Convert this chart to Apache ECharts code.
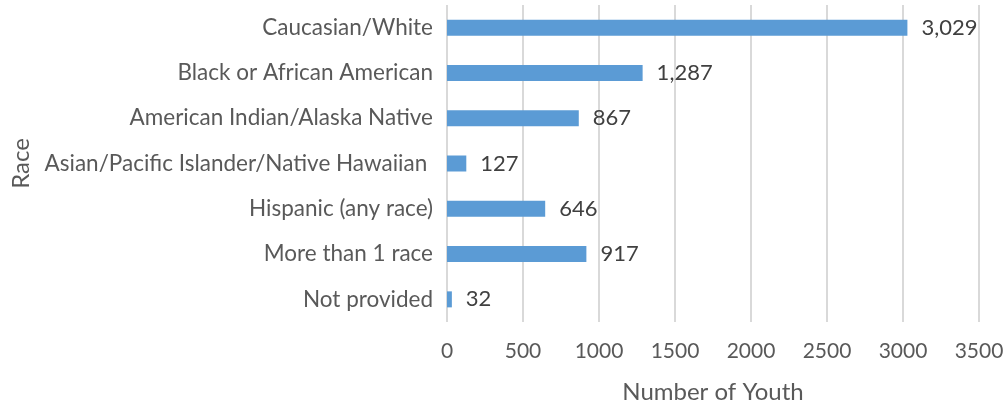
<!DOCTYPE html>
<html>
<head>
<meta charset="utf-8">
<script src="https://cdn.jsdelivr.net/npm/echarts@6/dist/echarts.min.js"></script>
<style>
  html, body { margin: 0; padding: 0; background: #fff; }
  #chart { width: 1006px; height: 405px; }
</style>
</head>
<body>
<div id="chart"></div>
<script>
// data, top to bottom as in the picture
const races = [
  'Caucasian/White',
  'Black or African American',
  'American Indian/Alaska Native',
  'Asian/Pacific Islander/Native Hawaiian ',
  'Hispanic (any race)',
  'More than 1 race',
  'Not provided'
]
const youth = [3029, 1287, 867, 127, 646, 917, 32]

const font = 'Lato, "Open Sans", sans-serif'
const textGray = '#595959'

const chart = echarts.init(document.getElementById('chart'))

chart.setOption({
  animation: false,
  grid: {
    left: 447,
    right: 27,
    top: 5,
    bottom: 83,
    containLabel: false,
    outerBoundsMode: 'none' // keep the plot where it is, labels may run close to the edge
  },
  xAxis: {
    type: 'value',
    min: 0,
    max: 3500,
    interval: 500,
    name: 'Number of Youth',
    nameLocation: 'middle',
    nameGap: 58,
    nameTextStyle: { color: textGray, fontSize: 24, fontFamily: font },
    axisLine: { show: false },
    axisTick: { show: false },
    axisLabel: {
      color: textGray, fontSize: 21, fontFamily: font, margin: 19,
      formatter: v => String(v)
    },
    splitLine: { lineStyle: { color: '#d9d9d9', width: 2 } }
  },
  yAxis: {
    type: 'category',
    data: races,
    inverse: true,
    name: 'Race',
    nameLocation: 'middle',
    nameGap: 407,
    nameRotate: 90,
    nameTextStyle: { color: textGray, fontSize: 24, fontFamily: font },
    axisLine: { show: false },
    axisTick: { show: false },
    axisLabel: { color: textGray, fontSize: 22.5, fontFamily: font, margin: 14 }
  },
  series: [{
    type: 'bar',
    data: youth,
    barWidth: 16,
    itemStyle: { color: '#5b9bd5' },
    label: {
      show: true,
      position: 'right',
      distance: 14,
      color: '#404040',
      fontSize: 22,
      fontFamily: font,
      formatter: p => p.value.toLocaleString('en-US')
    }
  }]
})
</script>
</body>
</html>
